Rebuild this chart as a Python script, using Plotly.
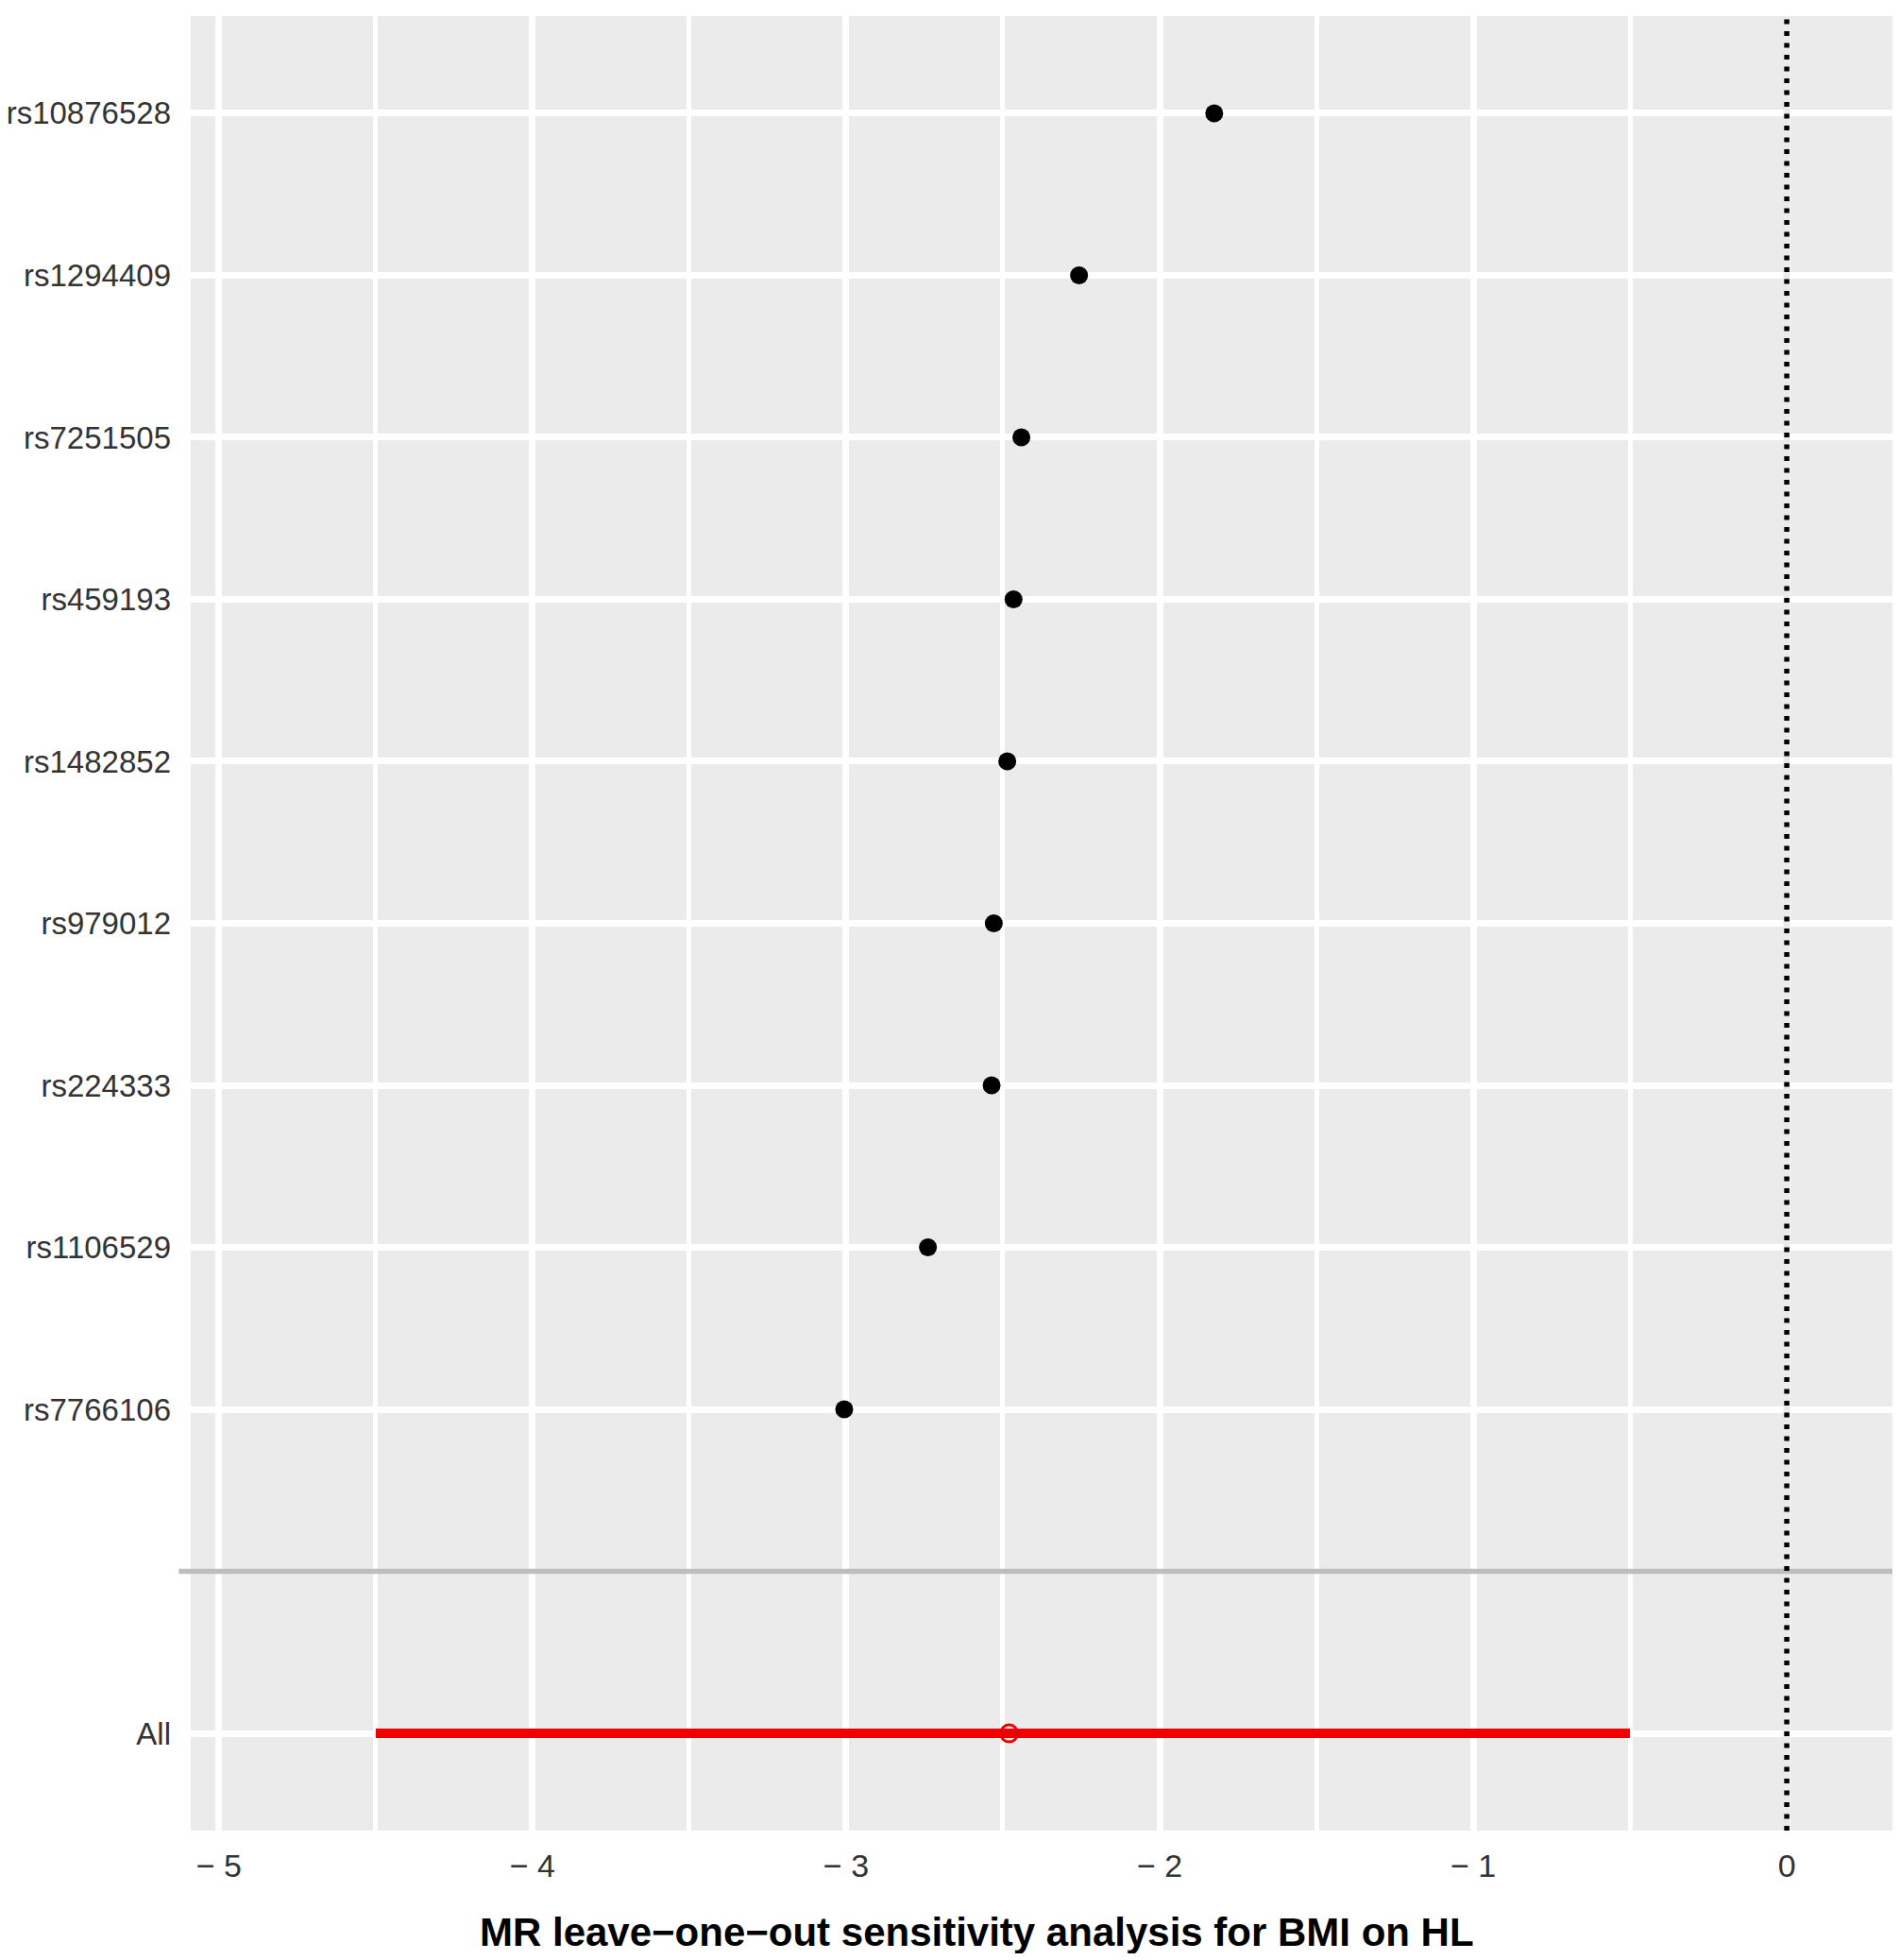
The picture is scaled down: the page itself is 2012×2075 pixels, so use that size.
import plotly.graph_objects as go

# leave-one-out estimates, top to bottom
snps = ["rs10876528", "rs1294409", "rs7251505", "rs459193", "rs1482852",
        "rs979012", "rs224333", "rs1106529", "rs7766106"]
b = [-1.826, -2.257, -2.441, -2.466, -2.486, -2.529, -2.536, -2.739, -3.006]

# all SNPs combined
all_b = -2.48
all_lo = -4.50
all_hi = -0.50

x_ticks = [-5, -4, -3, -2, -1, 0]
x_ticktext = ["\u2212 5", "\u2212 4", "\u2212 3", "\u2212 2", "\u2212 1", "0"]

rows = list(range(len(snps)))
blank_row = len(snps)
all_row = len(snps) + 1

font_family = "Liberation Sans, Arial, sans-serif"
bg = "#EBEBEB"

fig = go.Figure()

fig.add_trace(go.Scatter(x = b, y = rows,
                         mode = "markers",
                         marker = dict(color = "black", size = 19),
                         showlegend = False))

fig.add_trace(go.Scatter(x = [all_lo, all_hi], y = [all_row, all_row],
                         mode = "lines",
                         line = dict(color = "#F20000", width = 10),
                         showlegend = False))

fig.add_trace(go.Scatter(x = [all_b], y = [all_row],
                         mode = "markers",
                         marker = dict(symbol = "circle-open", color = "#E80000",
                                       size = 18, line = dict(width = 3)),
                         showlegend = False))

# hide the white grid line under the dotted zero line
fig.add_shape(type = "line", xref = "x", yref = "paper",
              x0 = 0, x1 = 0, y0 = 0, y1 = 1,
              line = dict(color = bg, width = 7), layer = "above")

# grey separator above the "All" row
fig.add_shape(type = "line", xref = "paper", yref = "y",
              x0 = -0.007, x1 = 1, y0 = blank_row, y1 = blank_row,
              line = dict(color = "#BEBEBE", width = 5.5), layer = "above")

fig.add_shape(type = "line", xref = "x", yref = "paper",
              x0 = 0, x1 = 0, y0 = 0, y1 = 1,
              line = dict(color = "black", width = 5.5, dash = "5px,7.5px"),
              layer = "above")

fig.update_xaxes(range = [-5.09, 0.337],
                 tickmode = "array", tickvals = x_ticks, ticktext = x_ticktext,
                 showgrid = True, gridcolor = "white", gridwidth = 6.5,
                 minor = dict(tickmode = "linear", tick0 = -4.5, dtick = 1,
                              showgrid = True, gridcolor = "white", gridwidth = 4.5),
                 zeroline = False, showline = False, ticks = "",
                 automargin = False,
                 ticklabelstandoff = 14,
                 tickfont = dict(family = font_family, size = 34, color = "#333333"))

fig.update_yaxes(range = [all_row + 0.6, -0.6],
                 tickmode = "array", tickvals = rows + [all_row], ticktext = snps + ["All"],
                 showgrid = True, gridcolor = "white", gridwidth = 7,
                 zeroline = False, showline = False, ticks = "",
                 automargin = False,
                 ticklabelstandoff = 20,
                 tickfont = dict(family = font_family, size = 33, color = "#333333"))

fig.add_annotation(text = "MR leave\u2212one\u2212out sensitivity analysis for BMI on HL",
                   xref = "paper", yref = "paper", x = 0.462, y = 0,
                   yshift = -107, xanchor = "center", yanchor = "middle",
                   showarrow = False,
                   font = dict(family = font_family, size = 42, color = "black", weight = "bold"))

fig.update_layout(width = 1996, height = 2060,
                  margin = dict(l = 194, r = 0, t = 9, b = 130),
                  plot_bgcolor = bg, paper_bgcolor = "white",
                  font = dict(family = font_family))

fig.write_html("out.html")
